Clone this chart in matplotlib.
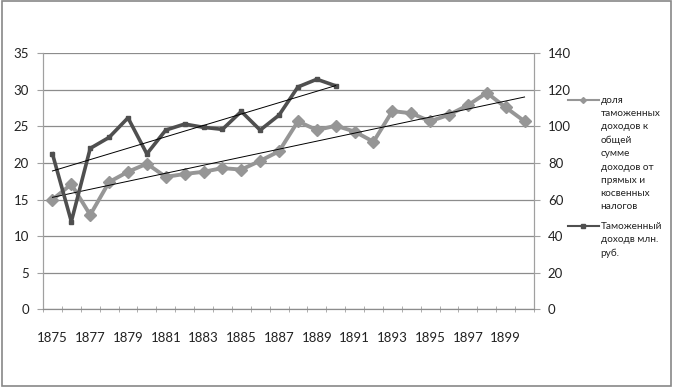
import numpy as np
import matplotlib
matplotlib.use("Agg")
from matplotlib import pyplot as plt
from matplotlib.lines import Line2D
from matplotlib.patches import Rectangle

plt.rcParams['font.family'] = ['Lato', 'DejaVu Sans']

# ── data ────────────────────────────────────────────────────────────────
years = list(range(1875, 1901))
share_pct = [15.0, 17.1, 12.9, 17.4, 18.8, 19.9, 18.1, 18.5, 18.8, 19.3, 19.1,
             20.3, 21.6, 25.7, 24.5, 25.1, 24.3, 22.9, 27.1, 26.8, 25.7, 26.6,
             27.9, 29.6, 27.6, 25.7]
customs_years = list(range(1875, 1891))
customs_mln = [85, 48, 88, 94, 104.7, 85, 98, 101.3, 99.5, 98.4, 108.2, 98,
               106.2, 121.6, 125.8, 122.2]
tick_years = list(range(1875, 1900, 2))

share_label = ("доля\nтаможенных\nдоходов к\nобщей\nсумме\nдоходов от\n"
               "прямых и\nкосвенных\nналогов")
customs_label = "Таможенный\nдоходв млн.\nруб."

GRAY = '#969696'
DARK = '#4f4f4f'
GRID = '#8c8c8c'

# ── figure ──────────────────────────────────────────────────────────────
fig = plt.figure(figsize=(6.74, 3.91), dpi=100)
ax = fig.add_axes([0.0638, 0.2090, 0.7285, 0.6547])
ax2 = ax.twinx()

x_share = np.array([years.index(y) for y in years])
x_cust = np.array([years.index(y) for y in customs_years])

ax.plot(x_share, share_pct, color=GRAY, lw=2.8, marker='D', ms=6.5,
        mec=GRAY, mfc=GRAY, zorder=3)
k, b = np.polyfit(x_share, share_pct, 1)
ax.plot(x_share, k * x_share + b, color='black', lw=0.7, zorder=4)

ax2.plot(x_cust, customs_mln, color=DARK, lw=2.6, marker='s', ms=2.5,
         mec=DARK, mfc=DARK, zorder=3)
k2, b2 = np.polyfit(x_cust, customs_mln, 1)
ax2.plot(x_cust, k2 * x_cust + b2, color='black', lw=0.7, zorder=4)

# axes ranges / grid
ax.set_xlim(-0.5, len(years) - 0.5)
ax.set_ylim(0, 35)
ax2.set_ylim(0, 140)
ax.set_yticks(range(0, 36, 5))
ax2.set_yticks(range(0, 141, 20))
ax.yaxis.grid(True, color=GRID, lw=0.9)
ax.set_axisbelow(True)

for a in (ax, ax2):
    a.spines['top'].set_visible(False)
    a.spines['left'].set_color('#a0a0a0')
    a.spines['right'].set_color('#a0a0a0')
    a.spines['bottom'].set_color(GRID)
    a.tick_params(axis='y', length=4, color='#a0a0a0', labelsize=9.5,
                  labelcolor='#222222', pad=6)

ax.set_xticks([years.index(y) for y in tick_years])
ax.set_xticklabels([str(y) for y in tick_years])
ax.set_xticks(np.arange(-0.5, len(years), 1), minor=True)
ax.tick_params(axis='x', which='major', length=0, pad=16, labelsize=9.5,
               labelcolor='#222222')
ax.tick_params(axis='x', which='minor', length=5, direction='inout',
               color='#a0a0a0')

# legend (handle sits beside the first line of each wrapped label)
legend_items = [(share_label, GRAY, 'D', 1 - 100 / 391),
                (customs_label, DARK, 's', 1 - 226 / 391)]
for label, color, marker, y in legend_items:
    fig.add_artist(Line2D([0.842, 0.888], [y, y], transform=fig.transFigure,
                          color=color, lw=1.5))
    fig.add_artist(Line2D([0.865], [y], transform=fig.transFigure,
                          color=color, marker=marker, ms=3))
    fig.text(0.891, y + 0.010, label, fontsize=7.2, va='top', ha='left',
             linespacing=1.6, color='#222222')

# chart border
fig.patches.append(Rectangle((0.003, 0.012), 0.992, 0.985, transform=fig.transFigure,
                             fill=False, edgecolor='#888888', lw=1.2))

fig.savefig('out.png', dpi=100)
